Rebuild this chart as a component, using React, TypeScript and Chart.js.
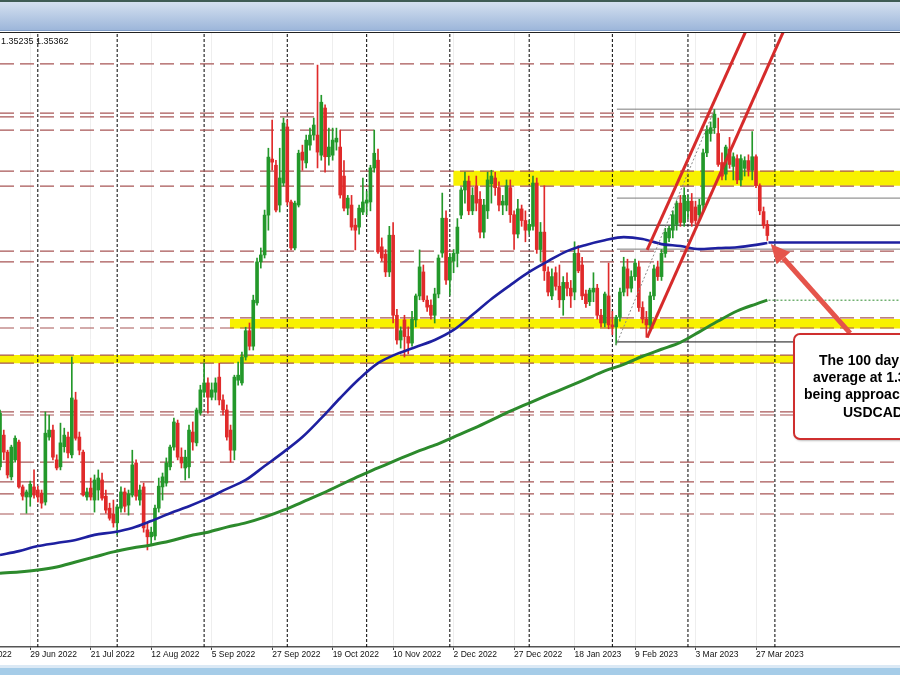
import React, { useEffect, useRef } from "react";
import { Chart, registerables } from "chart.js";

Chart.register(...registerables);

// ---------------- DATA (USDCAD daily, bar index 0 = 17 Jun 2022) ----------------
const opens = [
  1.2938, 1.3020, 1.2976, 1.2912, 1.2956, 1.3002, 1.2886, 1.2860, 1.2860, 1.2886,
  1.2878, 1.2870, 1.2847, 1.3015, 1.3033, 1.2956, 1.2938, 1.2990, 1.3015, 1.2969,
  1.3111, 1.3015, 1.2976, 1.2860, 1.2883, 1.2852, 1.2878, 1.2904, 1.2862, 1.2831,
  1.2816, 1.2793, 1.2831, 1.2873, 1.2839, 1.2865, 1.2948, 1.2852, 1.2886, 1.2775,
  1.2757, 1.2759, 1.2831, 1.2886, 1.2896, 1.2938, 1.2989, 1.3051, 1.2963, 1.2935,
  1.2938, 1.3028, 1.3000, 1.3077, 1.3131, 1.3155, 1.3118, 1.3131, 1.3170, 1.3111,
  1.3085, 1.3033, 1.2981, 1.3162, 1.3155, 1.3222, 1.3290, 1.3250, 1.3362, 1.3468,
  1.3486, 1.3589, 1.3734, 1.3718, 1.3615, 1.3672, 1.3817, 1.3623, 1.3504, 1.3615,
  1.3752, 1.3724, 1.3770, 1.3796, 1.3796, 1.3744, 1.3866, 1.3740, 1.3744, 1.3778,
  1.3765, 1.3690, 1.3607, 1.3615, 1.3563, 1.3558, 1.3597, 1.3620, 1.3623, 1.3711,
  1.3731, 1.3507, 1.3488, 1.3442, 1.3537, 1.3330, 1.3266, 1.3318, 1.3275, 1.3258,
  1.3318, 1.3380, 1.3442, 1.3369, 1.3356, 1.3330, 1.3385, 1.3491, 1.3581, 1.3421,
  1.3470, 1.3490, 1.3589, 1.3654, 1.3677, 1.3600, 1.3665, 1.3630, 1.3545, 1.3600,
  1.3670, 1.3685, 1.3660, 1.3615, 1.3615, 1.3660, 1.3590, 1.3540, 1.3605, 1.3575,
  1.3550, 1.3560, 1.3672, 1.3500, 1.3545, 1.3442, 1.3380, 1.3440, 1.3405, 1.3370,
  1.3415, 1.3400, 1.3390, 1.3490, 1.3460, 1.3385, 1.3365, 1.3390, 1.3400, 1.3330,
  1.3310, 1.3380, 1.3305, 1.3300, 1.3325, 1.3390, 1.3450, 1.3400, 1.3430, 1.3455,
  1.3350, 1.3320, 1.3305, 1.3380, 1.3455, 1.3430, 1.3490, 1.3530, 1.3550, 1.3565,
  1.3620, 1.3570, 1.3600, 1.3625, 1.3610, 1.3590, 1.3615, 1.3750, 1.3800, 1.3815,
  1.3800, 1.3725, 1.3695, 1.3760, 1.3715, 1.3735, 1.3680, 1.3710, 1.3730, 1.3705,
  1.3740, 1.3665, 1.3598, 1.3565,
];
const highs = [
  1.3085, 1.3033, 1.2981, 1.2994, 1.3018, 1.3007, 1.2891, 1.2878, 1.2901, 1.2930,
  1.2888, 1.2878, 1.3080, 1.3072, 1.3046, 1.2969, 1.3051, 1.3038, 1.3028, 1.3222,
  1.3131, 1.3028, 1.2981, 1.2883, 1.2909, 1.2917, 1.2930, 1.2922, 1.2878, 1.2844,
  1.2852, 1.2839, 1.2886, 1.2883, 1.2878, 1.2981, 1.2956, 1.2891, 1.2896, 1.2793,
  1.2782, 1.2839, 1.2909, 1.2922, 1.2961, 1.2994, 1.3064, 1.3059, 1.2987, 1.2981,
  1.3046, 1.3054, 1.3090, 1.3149, 1.3206, 1.3168, 1.3155, 1.3168, 1.3206, 1.3124,
  1.3098, 1.3046, 1.3175, 1.3209, 1.3235, 1.3299, 1.3310, 1.3382, 1.3478, 1.3504,
  1.3602, 1.3762, 1.3835, 1.3731, 1.3762, 1.3840, 1.3835, 1.3628, 1.3625, 1.3757,
  1.3770, 1.3796, 1.3814, 1.3840, 1.3977, 1.3899, 1.3874, 1.3814, 1.3814, 1.3814,
  1.3809, 1.3730, 1.3640, 1.3640, 1.3580, 1.3615, 1.3685, 1.3650, 1.3718, 1.3809,
  1.3760, 1.3530, 1.3500, 1.3560, 1.3570, 1.3345, 1.3300, 1.3330, 1.3300, 1.3340,
  1.3385, 1.3499, 1.3460, 1.3380, 1.3370, 1.3400, 1.3486, 1.3646, 1.3600, 1.3490,
  1.3500, 1.3580, 1.3660, 1.3700, 1.3690, 1.3660, 1.3690, 1.3650, 1.3630, 1.3700,
  1.3705, 1.3700, 1.3675, 1.3640, 1.3680, 1.3680, 1.3600, 1.3630, 1.3615, 1.3600,
  1.3575, 1.3690, 1.3685, 1.3570, 1.3665, 1.3455, 1.3450, 1.3455, 1.3460, 1.3430,
  1.3440, 1.3420, 1.3520, 1.3510, 1.3480, 1.3395, 1.3400, 1.3440, 1.3410, 1.3345,
  1.3390, 1.3465, 1.3340, 1.3330, 1.3400, 1.3480, 1.3475, 1.3445, 1.3475, 1.3470,
  1.3365, 1.3340, 1.3390, 1.3460, 1.3470, 1.3500, 1.3555, 1.3560, 1.3600, 1.3625,
  1.3640, 1.3660, 1.3640, 1.3645, 1.3625, 1.3630, 1.3760, 1.3820, 1.3830, 1.3862,
  1.3840, 1.3750, 1.3770, 1.3790, 1.3750, 1.3745, 1.3745, 1.3740, 1.3745, 1.3805,
  1.3745, 1.3670, 1.3610, 1.3575,
];
const lows = [
  1.2930, 1.2956, 1.2909, 1.2904, 1.2950, 1.2883, 1.2852, 1.2818, 1.2836, 1.2857,
  1.2847, 1.2831, 1.2839, 1.3007, 1.2956, 1.2930, 1.2930, 1.2976, 1.2961, 1.2961,
  1.3007, 1.2969, 1.2862, 1.2852, 1.2852, 1.2821, 1.2852, 1.2852, 1.2818, 1.2800,
  1.2782, 1.2762, 1.2821, 1.2821, 1.2813, 1.2860, 1.2852, 1.2839, 1.2769, 1.2723,
  1.2736, 1.2749, 1.2821, 1.2852, 1.2888, 1.2930, 1.2981, 1.2956, 1.2935, 1.2904,
  1.2909, 1.2981, 1.2992, 1.3072, 1.3118, 1.3077, 1.3111, 1.3111, 1.3098, 1.3072,
  1.3007, 1.2950, 1.2956, 1.3149, 1.3149, 1.3214, 1.3240, 1.3240, 1.3356, 1.3452,
  1.3478, 1.3550, 1.3705, 1.3597, 1.3597, 1.3664, 1.3615, 1.3499, 1.3499, 1.3610,
  1.3705, 1.3711, 1.3757, 1.3783, 1.3711, 1.3731, 1.3700, 1.3718, 1.3731, 1.3757,
  1.3633, 1.3600, 1.3590, 1.3550, 1.3499, 1.3540, 1.3590, 1.3590, 1.3600, 1.3700,
  1.3490, 1.3470, 1.3430, 1.3430, 1.3310, 1.3255, 1.3245, 1.3222, 1.3230, 1.3250,
  1.3300, 1.3370, 1.3365, 1.3340, 1.3320, 1.3310, 1.3375, 1.3480, 1.3410, 1.3382,
  1.3440, 1.3455, 1.3580, 1.3620, 1.3590, 1.3590, 1.3600, 1.3530, 1.3530, 1.3580,
  1.3620, 1.3640, 1.3600, 1.3590, 1.3600, 1.3570, 1.3500, 1.3530, 1.3560, 1.3520,
  1.3540, 1.3550, 1.3490, 1.3470, 1.3420, 1.3380, 1.3370, 1.3395, 1.3350, 1.3330,
  1.3380, 1.3350, 1.3370, 1.3440, 1.3370, 1.3350, 1.3355, 1.3365, 1.3320, 1.3300,
  1.3300, 1.3295, 1.3280, 1.3253, 1.3315, 1.3380, 1.3380, 1.3390, 1.3420, 1.3340,
  1.3310, 1.3273, 1.3295, 1.3370, 1.3420, 1.3420, 1.3480, 1.3520, 1.3530, 1.3550,
  1.3560, 1.3560, 1.3580, 1.3560, 1.3565, 1.3580, 1.3600, 1.3740, 1.3780, 1.3800,
  1.3715, 1.3680, 1.3680, 1.3710, 1.3680, 1.3670, 1.3665, 1.3690, 1.3690, 1.3680,
  1.3660, 1.3590, 1.3555, 1.35235,
];
const closes = [
  1.3077, 1.2976, 1.2917, 1.2989, 1.3012, 1.2886, 1.2862, 1.2873, 1.2893, 1.2865,
  1.2860, 1.2844, 1.3025, 1.3033, 1.2963, 1.2935, 1.3000, 1.3020, 1.2974, 1.3116,
  1.3012, 1.2981, 1.2865, 1.2873, 1.2860, 1.2904, 1.2909, 1.2857, 1.2826, 1.2805,
  1.2793, 1.2834, 1.2873, 1.2836, 1.2868, 1.2943, 1.2862, 1.2878, 1.2780, 1.2757,
  1.2769, 1.2831, 1.2888, 1.2912, 1.2948, 1.2989, 1.3054, 1.2963, 1.2948, 1.2963,
  1.3033, 1.3002, 1.3085, 1.3137, 1.3155, 1.3118, 1.3137, 1.3155, 1.3111, 1.3085,
  1.3015, 1.2981, 1.3170, 1.3175, 1.3222, 1.3290, 1.3250, 1.3369, 1.3468, 1.3486,
  1.3589, 1.3739, 1.3726, 1.3602, 1.3685, 1.3827, 1.3623, 1.3504, 1.3620, 1.3749,
  1.3731, 1.3783, 1.3796, 1.3822, 1.3752, 1.3881, 1.3740, 1.3765, 1.3783, 1.3788,
  1.3641, 1.3607, 1.3633, 1.3558, 1.3550, 1.3607, 1.3623, 1.3628, 1.3711, 1.3749,
  1.3494, 1.3478, 1.3442, 1.3537, 1.3330, 1.3266, 1.3290, 1.3275, 1.3258, 1.3320,
  1.3380, 1.3455, 1.3370, 1.3351, 1.3330, 1.3385, 1.3478, 1.3581, 1.3421, 1.3480,
  1.3490, 1.3558, 1.3654, 1.3677, 1.3600, 1.3640, 1.3620, 1.3545, 1.3615, 1.3680,
  1.3690, 1.3660, 1.3615, 1.3625, 1.3665, 1.3590, 1.3540, 1.3605, 1.3575, 1.3550,
  1.3565, 1.3672, 1.3500, 1.3545, 1.3445, 1.3390, 1.3430, 1.3405, 1.3370, 1.3415,
  1.3400, 1.3380, 1.3490, 1.3445, 1.3380, 1.3360, 1.3395, 1.3400, 1.3330, 1.3310,
  1.3385, 1.3305, 1.3300, 1.3325, 1.3390, 1.3455, 1.3400, 1.3430, 1.3465, 1.3350,
  1.3320, 1.3305, 1.3380, 1.3450, 1.3430, 1.3490, 1.3545, 1.3555, 1.3590, 1.3620,
  1.3570, 1.3640, 1.3625, 1.3570, 1.3575, 1.3615, 1.3750, 1.3810, 1.3815, 1.3850,
  1.3720, 1.3690, 1.3765, 1.3720, 1.3740, 1.3680, 1.3735, 1.3730, 1.3705, 1.3740,
  1.3665, 1.3600, 1.3562, 1.35362,
];

// x-axis labels (bar index -> date)
const tickBars = [-8, 8, 24, 40, 56, 72, 88, 104, 120, 136, 152, 168, 184, 200];
const tickLabels = [
  "7 Jun 2022", "29 Jun 2022", "21 Jul 2022", "12 Aug 2022", "5 Sep 2022",
  "27 Sep 2022", "19 Oct 2022", "10 Nov 2022", "2 Dec 2022", "27 Dec 2022",
  "18 Jan 2023", "9 Feb 2023", "3 Mar 2023", "27 Mar 2023",
];
// monthly period separators (first bar of each month)
const monthStartBars = [10, 31, 54, 76, 97, 119, 140, 162, 182, 205];

// moving averages read at sampled bars
const maBars = [
  0, 5, 10, 15, 20, 25, 30, 35, 40, 45, 50, 55, 60, 65, 70, 75, 80, 85, 90, 95, 100,
  105, 110, 115, 120, 125, 130, 135, 140, 145, 150, 155, 160, 165, 170, 175, 180, 185,
  190, 195, 200, 203,
];
const ma100 = [
  1.2710, 1.2720, 1.2733, 1.2741, 1.2749, 1.2762, 1.2769, 1.2780, 1.2798, 1.2818, 1.2836,
  1.2857, 1.2881, 1.2904, 1.2940, 1.2976, 1.3015, 1.3064, 1.3116, 1.3165, 1.3206,
  1.3230, 1.3248, 1.3266, 1.3292, 1.3331, 1.3372, 1.3408, 1.3442, 1.3470, 1.3496,
  1.3512, 1.3524, 1.3532, 1.3527, 1.3514, 1.3509, 1.3501, 1.3504, 1.3506, 1.3512, 1.3517,
];
const ma200 = [
  1.2663, 1.2666, 1.2671, 1.2679, 1.2692, 1.2705, 1.2718, 1.2728, 1.2736, 1.2746, 1.2759,
  1.2769, 1.2782, 1.2793, 1.2808, 1.2826, 1.2847, 1.2868, 1.2891, 1.2914, 1.2935,
  1.2956, 1.2976, 1.2994, 1.3015, 1.3036, 1.3059, 1.3082, 1.3103, 1.3124, 1.3144,
  1.3165, 1.3186, 1.3203, 1.3224, 1.3242, 1.3260, 1.3287, 1.3315, 1.3341, 1.3359, 1.3369,
];

// drawn horizontal support / resistance lines
const srLevels = [
  1.3980, 1.3853, 1.3843, 1.3809, 1.3703, 1.3664, 1.3496, 1.3468, 1.3323, 1.3297,
  1.3227, 1.3206, 1.3080, 1.3072, 1.2950, 1.2899, 1.2868, 1.2816,
];
// yellow zones
const zoneStartBars = [119.9, 60.8, -10.6];
const zoneHigh = [1.3704, 1.3320, 1.3227];
const zoneLow = [1.3665, 1.3296, 1.3206];
// fibonacci retracement (Feb low -> Mar high)
const fibStartBar = 163.2;
const fibGreyLevels = [1.3863, 1.3633, 1.3501];
const fibBlackLevels = [1.3563, 1.3261];
const fibDiagBars = [163, 189];
const fibDiagPrices = [1.3253, 1.3862];
// trend channel
const channelUpperBars = [171.2, 200];
const channelUpperPrices = [1.3499, 1.4123];
const channelLowerBars = [171.2, 210];
const channelLowerPrices = [1.3272, 1.4124];
// MA extensions to the right
const maExtStartBar = 203.3;
const ma100Last = 1.3518;
const ma200Last = 1.3369;
// annotation arrow [bar, price]
const arrowTip = [203.9, 1.3514];
const arrowTail = [224.9, 1.3284];

const noteLines = ["The 100 day moving", "average at 1.3520", "being approached by", "USDCAD"];
const headerText = "1.35235 1.35362";

// axis ranges
const X_MIN = -10.582;
const X_MAX = 238.095;
const Y_MIN = 1.2472;
const Y_MAX = 1.406;

// ---------------- STYLES ----------------
const UP = "#23982a";
const DOWN = "#e02a2a";
const FONT = '"Liberation Sans", Arial, sans-serif';

function hLines(levels: number[], from: number) {
  const pts: any[] = [];
  levels.forEach((v) => {
    pts.push({ x: from, y: v }, { x: X_MAX, y: v }, { x: X_MAX, y: null });
  });
  return pts;
}

function lineDs(data: any[], color: string, width: number, order: number, extra: any = {}) {
  return {
    type: "line",
    data,
    borderColor: color,
    borderWidth: width,
    pointRadius: 0,
    pointHoverRadius: 0,
    fill: false,
    spanGaps: false,
    order,
    ...extra,
  };
}

const arrowPlugin = {
  id: "maArrow",
  afterDatasetsDraw(chart: any) {
    const { ctx, scales } = chart;
    const xs = scales.x;
    const ys = scales.y;
    const x1 = xs.getPixelForValue(arrowTail[0]);
    const y1 = ys.getPixelForValue(arrowTail[1]);
    const x2 = xs.getPixelForValue(arrowTip[0]);
    const y2 = ys.getPixelForValue(arrowTip[1]);
    const a = Math.atan2(y2 - y1, x2 - x1);
    const head = 19;
    const half = 9;
    const bx = x2 - head * Math.cos(a);
    const by = y2 - head * Math.sin(a);
    ctx.save();
    ctx.strokeStyle = "#e5544b";
    ctx.fillStyle = "#e5544b";
    ctx.lineWidth = 5;
    ctx.beginPath();
    ctx.moveTo(x1, y1);
    ctx.lineTo(bx, by);
    ctx.stroke();
    ctx.beginPath();
    ctx.moveTo(x2, y2);
    ctx.lineTo(bx + half * Math.sin(a), by - half * Math.cos(a));
    ctx.lineTo(bx - half * Math.sin(a), by + half * Math.cos(a));
    ctx.closePath();
    ctx.fill();
    ctx.restore();
  },
};

export default function App() {
  const ref = useRef<HTMLCanvasElement>(null);

  useEffect(() => {
    document.body.style.margin = "0";
    const idx = opens.map((_, i) => i);
    const colors = idx.map((i) => (closes[i] >= opens[i] ? UP : DOWN));
    const wicks = idx.map((i) => ({
      x: i,
      y: [Math.min(lows[i], opens[i], closes[i]), Math.max(highs[i], opens[i], closes[i])],
    }));
    const bodies = idx.map((i) => ({ x: i, y: [opens[i], closes[i]] }));

    const separators: any[] = [];
    monthStartBars.forEach((b) => {
      separators.push({ x: b, y: Y_MIN }, { x: b, y: Y_MAX }, { x: b, y: null });
    });

    const zones = zoneStartBars.map((s, k) =>
      lineDs(
        [
          { x: s, y: zoneHigh[k] },
          { x: X_MAX, y: zoneHigh[k] },
        ],
        "rgba(0,0,0,0)",
        1,
        20,
        { fill: { value: zoneLow[k] }, backgroundColor: "#f8f100" }
      )
    );

    const datasets: any[] = [
      ...zones,
      lineDs(separators, "#000000", 1, 19, { borderDash: [3, 2] }),
      lineDs(hLines(srLevels, X_MIN), "#a85656", 1.2, 18, { borderDash: [14, 6] }),
      lineDs(hLines(fibGreyLevels, fibStartBar), "#7b7b7b", 1, 17),
      lineDs(hLines(fibBlackLevels, fibStartBar), "#111111", 1, 17),
      {
        type: "bar",
        data: wicks,
        backgroundColor: colors,
        borderWidth: 0,
        grouped: false,
        categoryPercentage: 1,
        barPercentage: 1,
        maxBarThickness: 1,
        order: 12,
      },
      {
        type: "bar",
        data: bodies,
        backgroundColor: colors,
        borderWidth: 0,
        grouped: false,
        categoryPercentage: 1,
        barPercentage: 1,
        maxBarThickness: 3,
        minBarLength: 1,
        order: 11,
      },
      lineDs(
        maBars.map((b, k) => ({ x: b, y: ma200[k] })),
        "#2c8a2c",
        3,
        6,
        { cubicInterpolationMode: "monotone" }
      ),
      lineDs(
        maBars.map((b, k) => ({ x: b, y: ma100[k] })),
        "#1e20a0",
        2.6,
        5,
        { cubicInterpolationMode: "monotone" }
      ),
      lineDs(hLines([ma100Last], maExtStartBar), "#1e20a0", 2.4, 5),
      lineDs(hLines([ma200Last], maExtStartBar), "#2c8a2c", 1, 5, { borderDash: [2, 2] }),
      lineDs(
        fibDiagBars.map((b, k) => ({ x: b, y: fibDiagPrices[k] })),
        "#8a8a8a",
        1,
        4,
        { borderDash: [2, 2] }
      ),
      lineDs(
        channelUpperBars.map((b, k) => ({ x: b, y: channelUpperPrices[k] })),
        "#d62b2b",
        3,
        3
      ),
      lineDs(
        channelLowerBars.map((b, k) => ({ x: b, y: channelLowerPrices[k] })),
        "#d62b2b",
        3,
        3
      ),
    ];

    const chart = new Chart(ref.current as HTMLCanvasElement, {
      type: "bar",
      data: { datasets },
      options: {
        animation: false,
        responsive: false,
        maintainAspectRatio: false,
        devicePixelRatio: 1,
        events: [],
        layout: { padding: 0 },
        plugins: { legend: { display: false }, tooltip: { enabled: false } },
        scales: {
          x: {
            type: "linear",
            min: X_MIN,
            max: X_MAX,
            offset: false,
            grid: {
              offset: false,
              color: "#eeeeee",
              drawOnChartArea: true,
              tickColor: "#444444",
              tickLength: 3,
            },
            border: { display: true, color: "#555555", width: 1.5 },
            afterBuildTicks: (scale: any) => {
              scale.ticks = tickBars.map((v) => ({ value: v }));
            },
            afterFit: (scale: any) => {
              scale.height = 18;
              scale.paddingLeft = 0;
              scale.paddingRight = 0;
            },
            ticks: {
              autoSkip: false,
              maxRotation: 0,
              minRotation: 0,
              align: "start",
              padding: 0,
              color: "#111111",
              font: { family: FONT, size: 8.5 },
              callback: (v: any) => {
                const k = tickBars.indexOf(Number(v));
                return k >= 0 ? tickLabels[k] : "";
              },
            },
          },
          y: { display: false, min: Y_MIN, max: Y_MAX },
        },
      } as any,
      plugins: [arrowPlugin],
    } as any);
    return () => chart.destroy();
  }, []);

  const noteLeft = [819, 813, 804, 843];

  return (
    <div
      style={{
        position: "fixed",
        left: 0,
        top: 0,
        width: 900,
        height: 675,
        overflow: "hidden",
        background: "#ffffff",
        fontFamily: FONT,
      }}
    >
      <div style={{ position: "absolute", left: 0, top: 0, width: 900, height: 2, background: "#3f5c55" }} />
      <div
        style={{
          position: "absolute",
          left: 0,
          top: 2,
          width: 900,
          height: 28,
          background: "linear-gradient(#d4e0f0, #9db6da)",
        }}
      />
      <div style={{ position: "absolute", left: 0, top: 30, width: 900, height: 1, background: "#7f9cc6" }} />
      <div style={{ position: "absolute", left: 0, top: 32, width: 900, height: 1, background: "#222222" }} />
      <div style={{ position: "absolute", left: -40, top: 33, width: 940, height: 632 }}>
        <canvas ref={ref} width={940} height={632} style={{ display: "block" }} />
      </div>
      <div
        style={{
          position: "absolute",
          left: 1,
          top: 36,
          fontSize: 9,
          lineHeight: "11px",
          color: "#111",
          whiteSpace: "nowrap",
        }}
      >
        {headerText}
      </div>
      <div
        style={{
          position: "absolute",
          left: 793,
          top: 333,
          width: 230,
          height: 107,
          boxSizing: "border-box",
          border: "2px solid #cf2f2f",
          borderRadius: 7,
          background: "#ffffff",
          boxShadow: "1px 1px 2px rgba(0,0,0,0.25)",
        }}
      />
      {noteLines.map((t, k) => (
        <div
          key={k}
          style={{
            position: "absolute",
            left: noteLeft[k],
            top: 352 + k * 17.2,
            fontWeight: "bold",
            fontSize: 14,
            lineHeight: "17px",
            color: "#000",
            whiteSpace: "nowrap",
          }}
        >
          {t}
        </div>
      ))}
      <div style={{ position: "absolute", left: 0, top: 665, width: 900, height: 3, background: "#dbe9f5" }} />
      <div style={{ position: "absolute", left: 0, top: 668, width: 900, height: 7, background: "#a5cce8" }} />
    </div>
  );
}
